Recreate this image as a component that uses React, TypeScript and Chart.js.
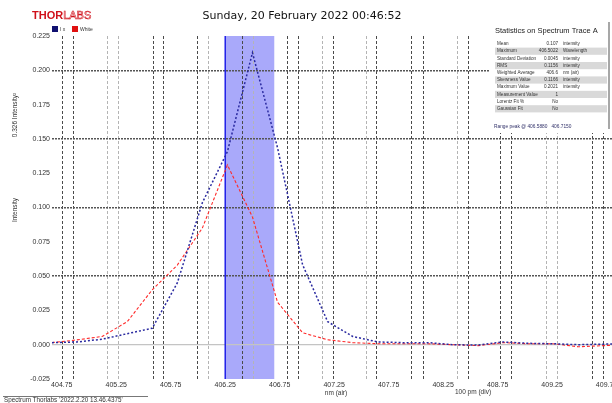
import React, { useEffect, useRef } from "react";
import { Chart, registerables } from "chart.js";

Chart.register(...registerables);

// ---- data ----
const wavelengths = [
  404.66, 404.89, 405.12, 405.35, 405.58, 405.81, 406.04, 406.27, 406.5, 406.73,
  406.96, 407.19, 407.42, 407.65, 407.88, 408.11, 408.34, 408.57, 408.8, 409.03,
  409.26, 409.49, 409.72, 409.95,
];
const traceIx = [
  0.0015, 0.002, 0.004, 0.008, 0.012, 0.045, 0.1035, 0.1407, 0.2128, 0.1436,
  0.0583, 0.0168, 0.006, 0.002, 0.0015, 0.0015, 0.0, -0.0003, 0.002, 0.001,
  0.0007, 0.0, 0.0004, 0.0007,
];
const traceWhite = [
  0.0015, 0.0035, 0.006, 0.0167, 0.04, 0.058, 0.085, 0.131, 0.093, 0.031,
  0.0087, 0.0036, 0.0015, 0.0007, 0.0007, 0.0007, 0.0, -0.0007, 0.0015, 0.0007,
  0.0007, -0.0015, -0.0007, 0.0,
];
const xTickValues = [
  404.75, 405.25, 405.75, 406.25, 406.75, 407.25, 407.75, 408.25, 408.75, 409.25, 409.75,
];
const yTickValues = [
  -0.025, 0, 0.025, 0.05, 0.075, 0.1, 0.125, 0.15, 0.175, 0.2, 0.225,
];
const gridLineValues = [
  404.76, 404.86, 405.17, 405.27, 405.59, 405.68, 406.0, 406.1, 406.41, 406.51,
  406.82, 406.92, 407.14, 407.24, 407.55, 407.64, 407.96, 408.07, 408.38, 408.48,
  408.78, 408.88, 409.2, 409.3, 409.62, 409.72,
];
const lightGridIndex = [2, 3, 7, 9, 12, 14, 18, 22, 23];
const bandRange = [406.25, 406.7];
const xRange = [404.66, 409.8];
const yRange = [-0.025, 0.225];

const titleText = "Sunday, 20 February 2022 00:46:52";
const seriesNames = ["I x", "White"];
const statRows = [
  ["Mean", "0.107", "intensity"],
  ["Maximum", "406.5022", "Wavelength"],
  ["Standard Deviation", "0.0045", "intensity"],
  ["RMS", "0.1156", "intensity"],
  ["Weighted Average", "406.6", "nm (air)"],
  ["Skewness Value", "0.1166", "intensity"],
  ["Maximum Value", "0.2021", "intensity"],
  ["Measurement Value", "1", ""],
  ["Lorentz Fit %", "No", ""],
  ["Gaussian Fit", "No", ""],
];
const statTitle = "Statistics on Spectrum Trace A";
const rangeText = "Range peak @ 406.5880   406.7150";
const footerText = "Spectrum Thorlabs '2022.2.20 13.46.4375'";

const SANS = "'Liberation Sans', Arial, sans-serif";

const overlayPlugin = {
  id: "overlay",
  beforeDraw(chart: any) {
    const { ctx, chartArea, scales } = chart;
    ctx.save();
    ctx.fillStyle = "#ffffff";
    ctx.fillRect(0, 0, chart.width, chart.height);
    const x0 = scales.x.getPixelForValue(bandRange[0]);
    const x1 = scales.x.getPixelForValue(bandRange[1]);
    ctx.fillStyle = "rgba(112,112,246,0.6)";
    ctx.fillRect(x0, chartArea.top, x1 - x0, chartArea.bottom - chartArea.top);
    ctx.restore();
  },
  beforeDatasetsDraw(chart: any) {
    const { ctx, chartArea, scales } = chart;
    const x0 = scales.x.getPixelForValue(bandRange[0]);
    ctx.save();
    ctx.strokeStyle = "#1f1fe8";
    ctx.lineWidth = 1.5;
    ctx.beginPath();
    ctx.moveTo(x0, chartArea.top);
    ctx.lineTo(x0, chartArea.bottom);
    ctx.stroke();
    ctx.restore();
  },
  afterDraw(chart: any) {
    const ctx = chart.ctx;
    ctx.save();
    ctx.textBaseline = "middle";
    // logo
    ctx.font = `bold 11px ${SANS}`;
    ctx.fillStyle = "#d0101a";
    ctx.textAlign = "left";
    ctx.fillText("THOR", 32, 16);
    const w = ctx.measureText("THOR").width;
    ctx.strokeStyle = "#d0101a";
    ctx.lineWidth = 0.6;
    ctx.font = `11px ${SANS}`;
    ctx.strokeText("LABS", 32 + w, 16);

    // title
    ctx.font = "11px 'DejaVu Sans', Verdana, sans-serif";
    ctx.fillStyle = "#111";
    ctx.textAlign = "center";
    ctx.fillText(titleText, 302, 16);

    // legend
    ctx.textAlign = "left";
    ctx.font = `5px ${SANS}`;
    ctx.fillStyle = "#101070";
    ctx.fillRect(52, 26, 6, 6);
    ctx.fillStyle = "#333";
    ctx.fillText(seriesNames[0], 60, 29.5);
    ctx.fillStyle = "#e01010";
    ctx.fillRect(72, 26, 6, 6);
    ctx.fillStyle = "#333";
    ctx.fillText(seriesNames[1], 80, 29.5);

    // stats box
    ctx.fillStyle = "#ffffff";
    ctx.fillRect(490, 21, 122, 112);
    ctx.fillStyle = "#222";
    ctx.font = `7.5px ${SANS}`;
    ctx.fillText(statTitle, 495, 31);
    const rowTop = 44;
    const rowH = 7.2;
    statRows.forEach((r, i) => {
      const cy = rowTop + i * rowH;
      if (i % 2 === 1) {
        ctx.fillStyle = "#d9d9d9";
        ctx.fillRect(495, cy - rowH / 2, 112, rowH);
      }
      ctx.fillStyle = "#333";
      ctx.font = `4.6px ${SANS}`;
      ctx.textAlign = "left";
      ctx.fillText(r[0], 497, cy);
      ctx.textAlign = "right";
      ctx.fillText(r[1], 558, cy);
      ctx.textAlign = "left";
      ctx.fillText(r[2], 563, cy);
    });
    ctx.strokeStyle = "#8a8a8a";
    ctx.lineWidth = 1.5;
    ctx.beginPath();
    ctx.moveTo(609, 22);
    ctx.lineTo(609, 129);
    ctx.stroke();
    ctx.fillStyle = "#33336a";
    ctx.font = `4.8px ${SANS}`;
    ctx.textAlign = "left";
    ctx.fillText(rangeText, 494, 127);

    // axis titles
    ctx.fillStyle = "#333";
    ctx.font = `6.5px ${SANS}`;
    ctx.save();
    ctx.translate(15, 210);
    ctx.rotate(-Math.PI / 2);
    ctx.textAlign = "center";
    ctx.fillText("Intensity", 0, 0);
    ctx.restore();
    ctx.save();
    ctx.translate(15, 115);
    ctx.rotate(-Math.PI / 2);
    ctx.textAlign = "center";
    ctx.fillText("0.326 Intensity²", 0, 0);
    ctx.restore();
    ctx.textAlign = "center";
    ctx.fillText("nm (air)", 336, 393);
    ctx.fillText("100 pm (div)", 473, 392);

    // footer
    ctx.strokeStyle = "#777";
    ctx.lineWidth = 1;
    ctx.beginPath();
    ctx.moveTo(3, 396.5);
    ctx.lineTo(148, 396.5);
    ctx.stroke();
    ctx.textAlign = "left";
    ctx.font = `6.3px ${SANS}`;
    ctx.fillStyle = "#333";
    ctx.fillText(footerText, 4, 400.5);
    ctx.restore();
  },
};

function isMultiple(v: number, step: number) {
  return Math.abs(Math.round(v / step) * step - v) < 1e-9;
}

export default function App() {
  const ref = useRef<HTMLCanvasElement | null>(null);
  useEffect(() => {
    if (!ref.current) return;
    const chart = new Chart(ref.current, {
      type: "line",
      data: {
        datasets: [
          {
            label: seriesNames[0],
            data: wavelengths.map((x, i) => ({ x, y: traceIx[i] })),
            borderColor: "#2a2aa0",
            borderWidth: 1.5,
            borderDash: [2, 2],
            pointRadius: 0,
            tension: 0,
            fill: false,
          },
          {
            label: seriesNames[1],
            data: wavelengths.map((x, i) => ({ x, y: traceWhite[i] })),
            borderColor: "#ff2a2a",
            borderWidth: 1.1,
            borderDash: [3, 2],
            pointRadius: 0,
            tension: 0,
            fill: false,
          },
        ],
      },
      options: {
        responsive: false,
        animation: false,
        devicePixelRatio: 1,
        layout: { padding: { top: 36, left: 0, right: 0, bottom: 0 } },
        plugins: {
          legend: { display: false },
          title: { display: false },
          tooltip: { enabled: false },
        },
        scales: {
          x: {
            type: "linear",
            position: "bottom",
            min: xRange[0],
            max: xRange[1],
            afterBuildTicks: (s: any) => {
              s.ticks = xTickValues.map((v) => ({ value: v }));
            },
            afterFit: (s: any) => {
              s.height = 24;
              s.paddingLeft = 0;
              s.paddingRight = 0;
            },
            grid: { display: false, drawTicks: false },
            border: { display: false },
            ticks: {
              autoSkip: false,
              maxRotation: 0,
              padding: 2,
              color: "#333",
              font: { size: 7, family: SANS },
              callback: (v: any) => Number(v).toFixed(2),
            },
          },
          xg: {
            type: "linear",
            position: "top",
            min: xRange[0],
            max: xRange[1],
            afterBuildTicks: (s: any) => {
              s.ticks = gridLineValues.map((v) => ({ value: v }));
            },
            afterFit: (s: any) => {
              s.height = 0;
              s.paddingLeft = 0;
              s.paddingRight = 0;
            },
            ticks: { display: false },
            grid: {
              drawTicks: false,
              color: (c: any) => (lightGridIndex.includes(c.index) ? "#b4b4b4" : "#4a4a4a"),
              lineWidth: 1,
            },
            border: { display: false, dash: [3, 2] },
          },
          y: {
            type: "linear",
            min: yRange[0],
            max: yRange[1],
            afterBuildTicks: (s: any) => {
              s.ticks = yTickValues.map((v) => ({ value: v }));
            },
            afterFit: (s: any) => {
              s.width = 52;
              s.paddingTop = 0;
              s.paddingBottom = 0;
            },
            ticks: {
              padding: 2,
              color: "#333",
              font: { size: 7, family: SANS },
              callback: (v: any) => Number(v).toFixed(3),
            },
            grid: {
              drawTicks: false,
              color: (c: any) => {
                const v = c.tick ? c.tick.value : NaN;
                if (Math.abs(v) < 1e-9) return "#c4c4c4";
                if (isMultiple(v, 0.05)) return "#555";
                return "rgba(0,0,0,0)";
              },
              lineWidth: (c: any) => {
                const v = c.tick ? c.tick.value : NaN;
                if (Math.abs(v) < 1e-9) return 1.2;
                return 1.5;
              },
            },
            border: {
              display: false,
              dash: (c: any) => {
                const v = c.tick ? c.tick.value : NaN;
                return Math.abs(v) < 1e-9 ? [] : [2, 1];
              },
            },
          },
        },
      },
      plugins: [overlayPlugin],
    } as any);
    return () => chart.destroy();
  }, []);

  return (
    <div style={{ position: "fixed", left: 0, top: 0, width: 612, height: 403, background: "#fff" }}>
      <canvas ref={ref} width={612} height={403} style={{ display: "block" }} />
    </div>
  );
}
